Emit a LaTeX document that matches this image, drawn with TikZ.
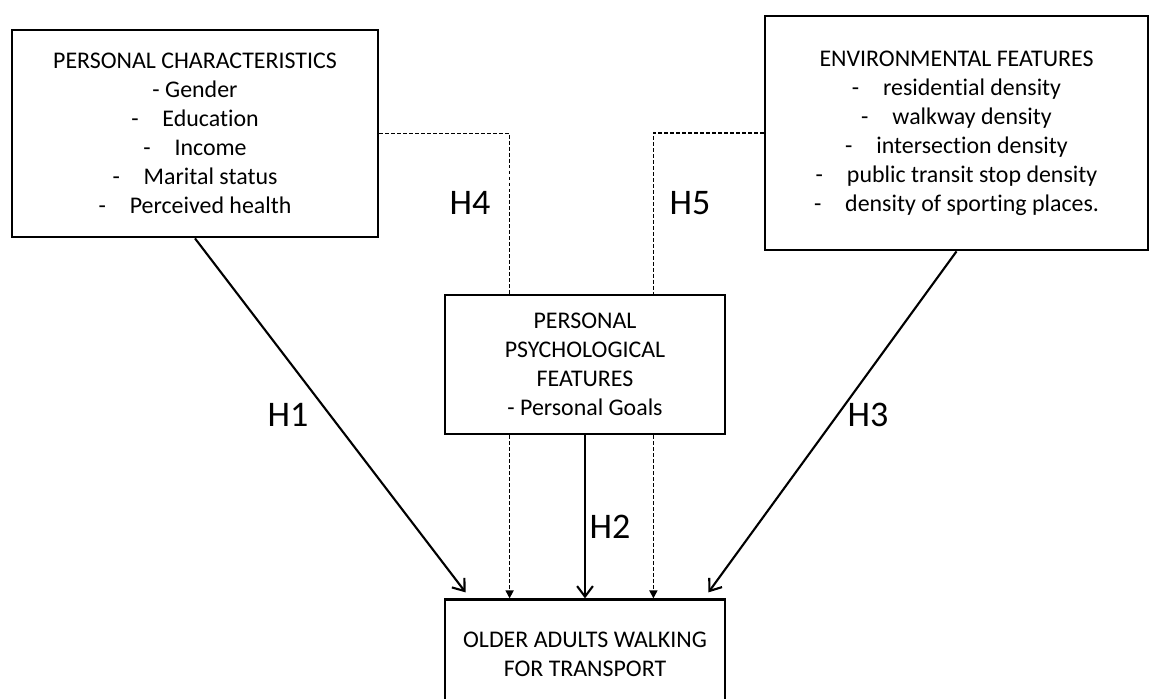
\documentclass[tikz,border=0pt]{standalone}
\usepackage{fontspec}
\setmainfont{Carlito}[Ligatures=NoCommon]
\usetikzlibrary{arrows.meta, positioning, calc}

\begin{document}
\begin{tikzpicture}[
  factor/.style={draw=black, line width=1.6pt, align=center, inner sep=0pt, font=\fontsize{13.6}{16.5}\selectfont},
  direct/.style={black, line width=1.2pt, -{Straight Barb[length=6pt, width=9pt, line width=1.2pt]}},
  mediated/.style={black, line width=0.9pt, dash pattern=on 2.2pt off 1.2pt},
  hyp/.style={font=\fontsize{20.5}{24}\selectfont, inner sep=0pt}
]
\useasboundingbox (0,0) rectangle (23,13.98);

% factors
\node[factor, minimum width=7.32cm, minimum height=4.14cm] (pc) at (3.9,11.31) {PERSONAL CHARACTERISTICS\\- Gender\\-\hspace{1em}Education\\-\hspace{1em}Income\\-\hspace{1em}Marital status\\-\hspace{1em}Perceived health};
\node[factor, minimum width=7.66cm, minimum height=4.68cm] (env) at (19.13,11.32) {ENVIRONMENTAL FEATURES\\-\hspace{1em}residential density\\-\hspace{1em}walkway density\\-\hspace{1em}intersection density\\-\hspace{1em}public transit stop density\\-\hspace{1em}density of sporting places.};
\node[factor, minimum width=5.6cm, minimum height=2.78cm] (ppf) at (11.7,6.69) {PERSONAL\\PSYCHOLOGICAL\\FEATURES\\- Personal Goals};
\node[factor, minimum width=5.6cm, minimum height=2.18cm, below=3.26cm of ppf] (walk) {OLDER ADULTS WALKING\\FOR TRANSPORT};

% mediated paths
\coordinate (h4in) at ($(ppf.north west)+(1.32,0)$);
\coordinate (h5in) at ($(ppf.north east)+(-1.46,0)$);
\draw[mediated] (pc.east) -| (h4in);
\draw[mediated] (env.west) -| (h5in);
\draw[mediated, -{Triangle[length=4.5pt, width=4.5pt]}] (h4in |- ppf.south) -- (h4in |- walk.north);
\draw[mediated, -{Triangle[length=4.5pt, width=4.5pt]}] (h5in |- ppf.south) -- (h5in |- walk.north);

% direct paths
\coordinate (h1end) at ($(walk.north west)+(0.44,0.12)$);
\coordinate (h3end) at ($(walk.north east)+(-0.36,0.12)$);
\draw[direct] (pc.south) -- (h1end);
\draw[direct] (ppf.south) -- (walk.north);
\draw[direct] (env.south) -- (h3end);

% hypotheses
\node[hyp] (h1) at (5.76,5.68) {H1};
\node[hyp] (h2) at (12.2,3.44) {H2};
\node[hyp] (h3) at (17.36,5.68) {H3};
\node[hyp] (h4) at (9.4,9.92) {H4};
\node[hyp] (h5) at (13.8,9.92) {H5};

\end{tikzpicture}
\end{document}
